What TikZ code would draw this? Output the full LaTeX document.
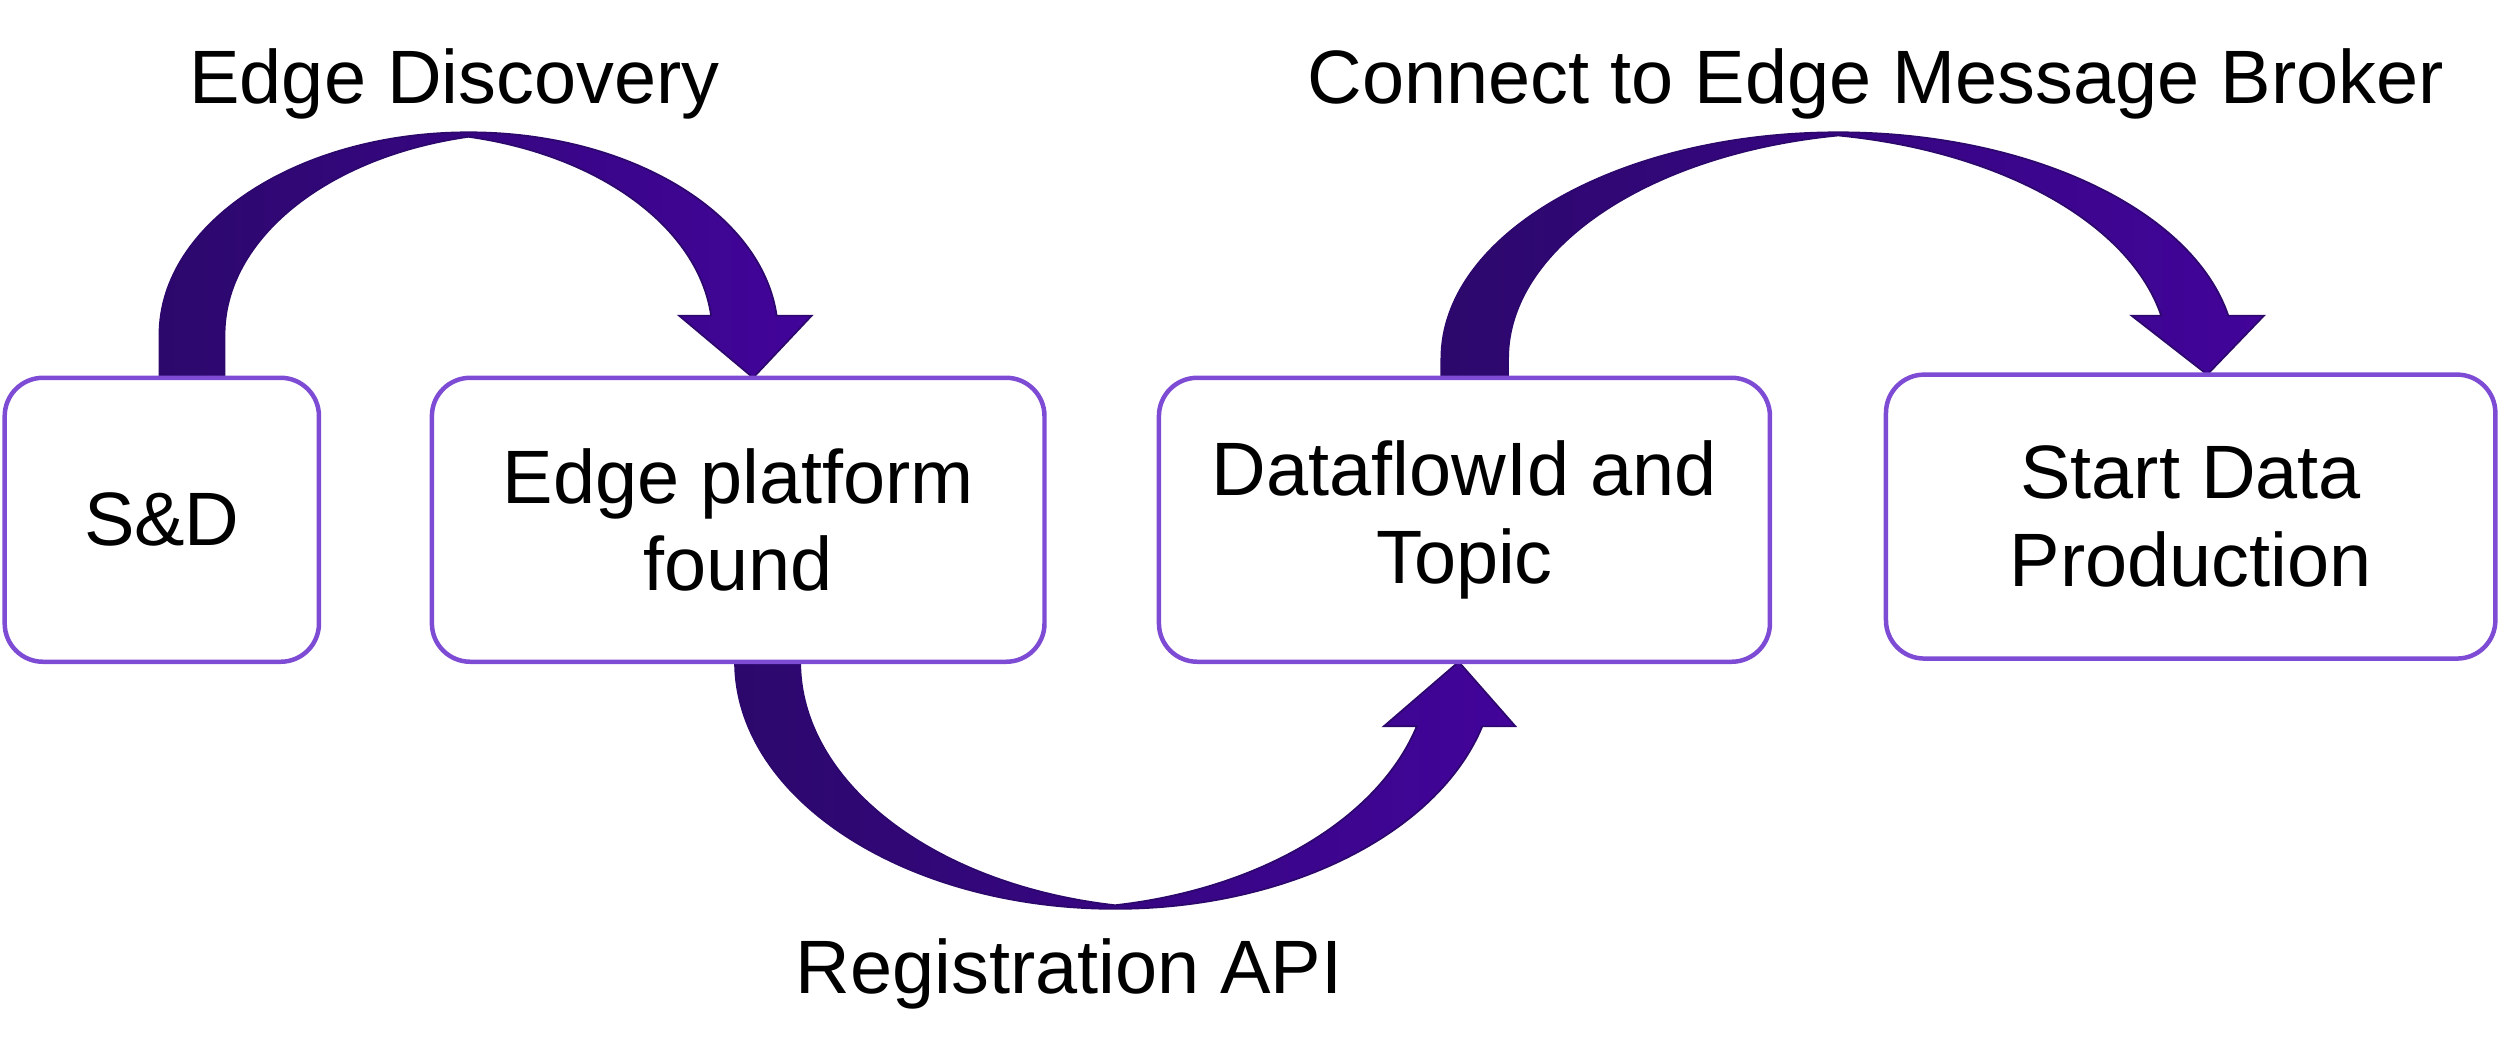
\documentclass[tikz,border=0pt]{standalone}
\usepackage{fontspec}
\setmainfont{Liberation Sans}
\usetikzlibrary{calc,backgrounds}
\definecolor{boxline}{RGB}{126,76,212}
\definecolor{flowdark}{RGB}{44,8,108}
\definecolor{flowlight}{RGB}{66,4,154}
\begin{document}
\begin{tikzpicture}[x=0.01cm, y=-0.01cm,
				    stage/.style={draw=boxline, line width=0.8pt, rounded corners=0.24cm,
				    			  fill=white, minimum height=1.78cm, inner sep=0pt,
				    			  outer sep=0pt, align=center, text=black,
				    			  font=\fontsize{13.5}{15.6}\selectfont},
				    caption/.style={anchor=base, inner sep=0pt,
				    			  font=\fontsize{13.5}{15.6}\selectfont},
				    flow/.style={left color=flowdark, right color=flowlight,
				    			  draw=flowdark, line width=0.3pt}]
	\useasboundingbox (0,0) rectangle (1568,665.4);
	\node[stage, minimum width=1.97cm] (sd)    at (101.5, 326) {S\&D};
	\node[stage, minimum width=3.84cm] (found) at (463, 326)   {Edge platform\\found};
	\node[stage, minimum width=3.83cm] (topic) at (918.5, 326) {DataflowId and\\Topic};
	\node[stage, minimum width=3.82cm] (prod)  at (1374, 324)  {Start Data\\Production};
	\node[caption] (disc) at (285, 65)    {Edge Discovery};
	\node[caption] (conn) at (1176.5, 65) {Connect to Edge Message Broker};
	\node[caption] (reg)  at (670.5, 623) {Registration API};
	\begin{scope}[on background layer]
	% sd -> found
	\shadedraw[flow] ($(sd.north)+(-1.5,0)$) -- ++(0,-27)
		arc[start angle=180, end angle=354.58, x radius=194, y radius=127]
		-- ++(22,0) -- ($(found.north west)+(201.5,0)$) -- ++(-46.5,-39) -- ++(20.1,0)
		arc[start angle=354.58, end angle=282.2, x radius=194, y radius=127]
		arc[start angle=257.8, end angle=180, x radius=194, y radius=127]
		-- ++(0,27) -- cycle;
	% found -> topic
	\shadedraw[flow] ($(found.south)+(-2,0)$)
		arc[start angle=180, end angle=15.15, x radius=238.5, y radius=155]
		-- ++(20.8,0) -- ($(topic.south west)+(188,0)$) -- ++(-47,40.5) -- ++(20.7,0)
		arc[start angle=15.15, end angle=80.1, x radius=238.5, y radius=155]
		arc[start angle=99.9, end angle=180, x radius=238.5, y radius=155]
		-- cycle;
	% topic -> prod
	\shadedraw[flow] ($(topic.north)+(-14.5,0)$) -- ++(0,-12)
		arc[start angle=180, end angle=349.04, x radius=249.07, y radius=142]
		-- ++(22.4,0) -- ($(prod.north west)+(201.5,0)$) -- ++(-47.5,-37) -- ++(18.6,0)
		arc[start angle=349.04, end angle=279.71, x radius=249.07, y radius=142]
		arc[start angle=260.29, end angle=180, x radius=249.07, y radius=142]
		-- ++(0,12) -- cycle;
	\end{scope}
\end{tikzpicture}
\end{document}
